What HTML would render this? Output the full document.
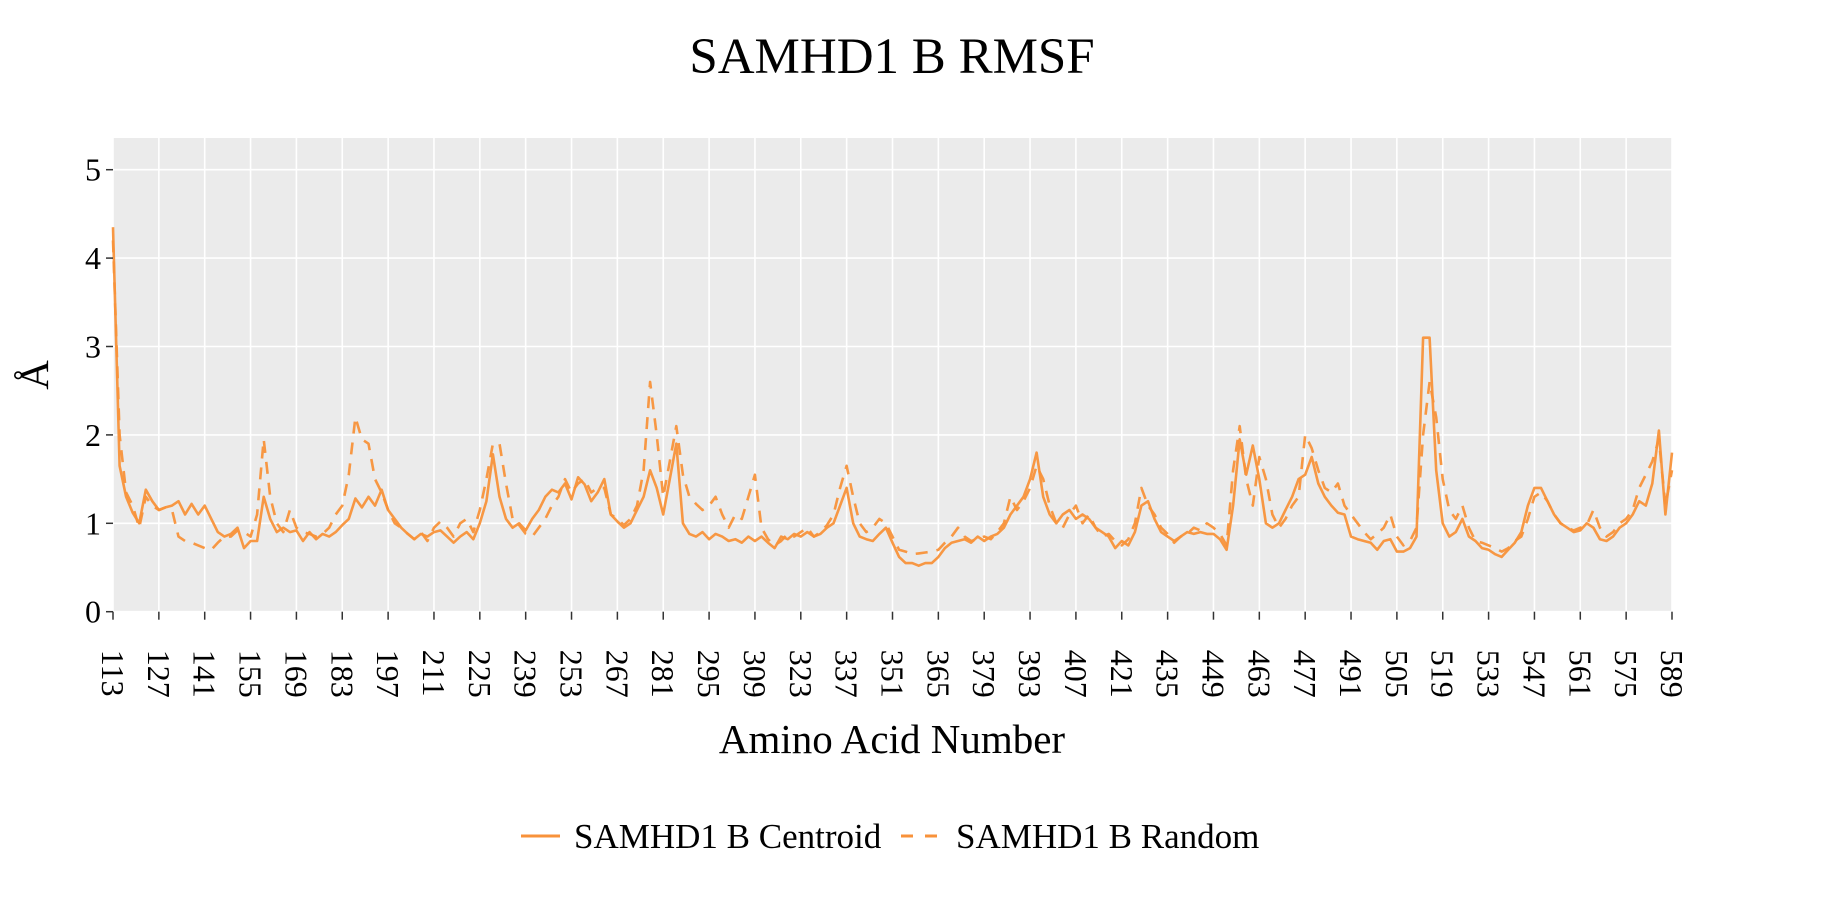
<!DOCTYPE html>
<html><head><meta charset="utf-8"><title>SAMHD1 B RMSF</title>
<style>
html,body{margin:0;padding:0;background:#fff;}
svg{display:block;font-family:"Liberation Serif","DejaVu Serif",serif;}
</style></head>
<body>
<svg id="chart" width="1838" height="909" viewBox="0 0 1838 909" xmlns="http://www.w3.org/2000/svg">
<text x="892" y="73" font-size="51" text-anchor="middle" fill="#000">SAMHD1 B RMSF</text>
<rect x="113" y="138" width="1559" height="474" fill="#EBEBEB"/>
<g id="grid"></g>
<g id="series"></g>
<g id="yaxis"></g>
<g id="xaxis"></g>
<text x="892" y="753" font-size="41" text-anchor="middle" fill="#000">Amino Acid Number</text>
<text transform="translate(48,375) rotate(-90)" font-size="41" text-anchor="middle" fill="#000">Å</text>
<g>
<line x1="521" y1="836" x2="560" y2="836" stroke="#F8923A" stroke-width="3"/>
<text x="574" y="848" font-size="35" fill="#000">SAMHD1 B Centroid</text>
<line x1="901" y1="836" x2="940" y2="836" stroke="#F8923A" stroke-width="3" stroke-dasharray="12,12"/>
<text x="956" y="848" font-size="35" fill="#000">SAMHD1 B Random</text>
</g>
</svg>
<script>
const residueStart = 113;
const residueStep = 2;
const centroid = [
4.35,1.65,1.3,1.12,1.0,1.38,1.25,1.15,1.18,1.2,
1.25,1.1,1.22,1.1,1.2,1.05,0.9,0.85,0.88,0.95,
0.72,0.8,0.8,1.3,1.05,0.9,0.95,0.9,0.92,0.8,
0.9,0.82,0.88,0.85,0.9,0.98,1.05,1.28,1.18,1.3,
1.2,1.38,1.15,1.05,0.95,0.88,0.82,0.88,0.85,0.9,
0.92,0.85,0.78,0.85,0.9,0.82,1.0,1.25,1.78,1.3,
1.05,0.95,1.0,0.92,1.05,1.15,1.3,1.38,1.35,1.45,
1.27,1.52,1.44,1.25,1.35,1.5,1.1,1.02,0.95,1.0,
1.15,1.3,1.6,1.4,1.1,1.5,1.9,1.0,0.88,0.85,
0.9,0.82,0.88,0.85,0.8,0.82,0.78,0.85,0.8,0.85,
0.78,0.72,0.85,0.82,0.88,0.85,0.9,0.85,0.88,0.95,
1.0,1.2,1.4,1.0,0.85,0.82,0.8,0.88,0.95,0.78,
0.62,0.55,0.55,0.52,0.55,0.55,0.62,0.72,0.78,0.8,
0.82,0.78,0.85,0.8,0.85,0.88,0.95,1.1,1.2,1.3,
1.5,1.8,1.3,1.1,1.0,1.1,1.15,1.05,1.1,1.05,
0.95,0.9,0.85,0.72,0.8,0.75,0.9,1.2,1.25,1.05,
0.9,0.85,0.8,0.85,0.9,0.88,0.9,0.88,0.88,0.82,
0.7,1.2,1.95,1.55,1.88,1.5,1.0,0.95,1.0,1.15,
1.3,1.5,1.55,1.75,1.45,1.3,1.2,1.12,1.1,0.85,
0.82,0.8,0.78,0.7,0.8,0.82,0.68,0.68,0.72,0.85,
3.1,3.1,1.6,1.0,0.85,0.9,1.05,0.85,0.8,0.72,
0.7,0.65,0.62,0.7,0.78,0.9,1.2,1.4,1.4,1.25,
1.1,1.0,0.95,0.9,0.92,1.0,0.95,0.82,0.8,0.85,
0.95,1.0,1.1,1.25,1.2,1.45,2.05,1.1,1.8];
const random = [
4.2,2.0,1.35,1.2,0.95,1.3,1.2,1.15,1.18,1.15,
0.85,0.8,0.78,0.75,0.72,0.7,0.78,0.85,0.85,0.92,
0.9,0.85,1.1,1.95,1.3,1.0,0.9,1.15,0.95,0.9,
0.88,0.85,0.88,0.95,1.1,1.2,1.55,2.2,1.95,1.9,
1.5,1.35,1.15,1.0,0.95,0.88,0.82,0.9,0.8,0.95,
1.02,0.95,0.85,1.0,1.05,0.9,1.15,1.5,1.9,1.9,
1.45,1.05,0.98,0.88,0.85,0.95,1.05,1.2,1.3,1.5,
1.35,1.45,1.5,1.35,1.4,1.4,1.1,1.05,0.98,1.05,
1.2,1.6,2.6,2.0,1.3,1.7,2.1,1.55,1.3,1.22,
1.15,1.2,1.3,1.1,0.95,1.1,1.05,1.3,1.55,0.95,
0.82,0.75,0.8,0.88,0.85,0.9,0.95,0.85,0.9,0.98,
1.1,1.4,1.65,1.3,1.0,0.9,0.95,1.05,1.0,0.85,
0.7,0.68,0.65,0.66,0.67,0.68,0.7,0.78,0.85,0.95,
0.85,0.8,0.82,0.85,0.82,0.9,1.0,1.3,1.15,1.25,
1.4,1.65,1.5,1.2,1.0,0.95,1.1,1.2,1.0,1.1,
0.95,0.85,0.88,0.8,0.75,0.82,1.0,1.4,1.2,1.1,
0.95,0.88,0.78,0.85,0.88,0.95,0.92,1.0,0.95,0.88,
0.75,1.6,2.1,1.5,1.2,1.75,1.5,1.1,0.95,1.05,
1.2,1.3,2.0,1.85,1.6,1.4,1.35,1.45,1.2,1.1,
1.0,0.9,0.82,0.88,0.95,1.1,0.85,0.75,0.8,0.95,
2.0,2.6,2.2,1.5,1.15,1.05,1.2,0.95,0.8,0.78,
0.75,0.72,0.68,0.72,0.8,0.85,1.05,1.3,1.35,1.25,
1.1,1.0,0.95,0.92,0.95,0.98,1.15,0.95,0.85,0.9,
1.0,1.05,1.15,1.4,1.55,1.7,1.95,1.2,1.6];
const yTicks = [0,1,2,3,4,5];
const xTicks = [113,127,141,155,169,183,197,211,225,239,253,267,281,295,309,323,337,351,365,379,393,407,421,435,449,463,477,491,505,519,533,547,561,575,589];

const NS = "http://www.w3.org/2000/svg";
const X0 = 113, X1 = 1672, Y0 = 611.7, YPER = 88.4;
const PANEL_TOP = 138;
function xs(r){ return X0 + (r - 113) * (X1 - X0) / (589 - 113); }
function ys(v){ return Y0 - v * YPER; }
function mk(tag, attrs, parent){
  const e = document.createElementNS(NS, tag);
  for (const k in attrs) e.setAttribute(k, attrs[k]);
  parent.appendChild(e); return e;
}
const grid = document.getElementById('grid');
const yaxis = document.getElementById('yaxis');
const xaxis = document.getElementById('xaxis');
const series = document.getElementById('series');

yTicks.forEach(function(t){
  const g = mk('line', {x1:X0, x2:X1, y1:ys(t), y2:ys(t), stroke:'#fff', 'stroke-width':1.6}, grid);
  
  
  const tk = mk('line', {x1:X0-7, x2:X0, y1:ys(t), y2:ys(t), stroke:'#333', 'stroke-width':1.5}, yaxis);
  
  
  const lb = mk('text', {x:X0-12, y:ys(t)+11, 'font-size':32, 'text-anchor':'end', fill:'#000'}, yaxis);
  lb.textContent = t;
  
  
});
xTicks.forEach(function(t){
  const g = mk('line', {x1:xs(t), x2:xs(t), y1:PANEL_TOP, y2:Y0, stroke:'#fff', 'stroke-width':1.6}, grid);
  
  
  const tk = mk('line', {x1:xs(t), x2:xs(t), y1:Y0, y2:Y0+8, stroke:'#333', 'stroke-width':1.5}, xaxis);
  
  
  const lb = mk('text', {transform:'translate(' + (xs(t)-11) + ',' + (Y0+38) + ') rotate(90)', 'font-size':32, 'text-anchor':'start', fill:'#000'}, xaxis);
  lb.textContent = t;
  
  
});
function pathFor(vals){
  return vals.map(function(v,i){
    const r = residueStart + i * residueStep;
    return (i ? 'L' : 'M') + xs(r).toFixed(1) + ',' + ys(v).toFixed(1);
  }).join('');
}
const pr = mk('path', {d:pathFor(random), fill:'none', stroke:'#F8923A', 'stroke-width':2.6, 'stroke-dasharray':'12,9', 'stroke-linejoin':'round', opacity:0.95}, series);


const pc = mk('path', {d:pathFor(centroid), fill:'none', stroke:'#F8923A', 'stroke-width':2.6, 'stroke-linejoin':'round', opacity:0.95}, series);


</script>
</body></html>
